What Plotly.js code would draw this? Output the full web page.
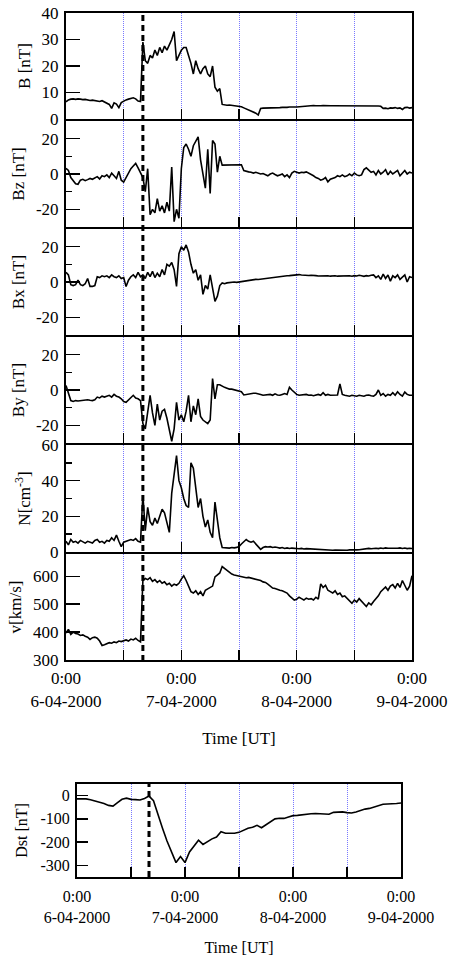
<!DOCTYPE html>
<html>
<head>
<meta charset="utf-8">
<script src="https://cdn.plot.ly/plotly-3.0.1.min.js"></script>
<style>html,body{margin:0;padding:0;background:#fff;}#chart{width:451px;height:957px;}</style>
</head>
<body>
<div id="chart"></div>
<script>
// ---- data (solar wind, 6-9 April 2000), 30-min samples from 6-04-2000 0:00 ----
const startTime = '2000-04-06 00:00';
const shockTime = '2000-04-06 16:00';
const dayTicks = ['2000-04-06 00:00','2000-04-07 00:00','2000-04-08 00:00','2000-04-09 00:00'];
const dayText = ['0:00<br>6-04-2000','0:00<br>7-04-2000','0:00<br>8-04-2000','0:00<br>9-04-2000'];
const halfDayTicks = ['2000-04-06 12:00','2000-04-07 12:00','2000-04-08 12:00'];

const B = [
 6.5,7.2,7.5,7.6,7.4,7.6,7.5,7.3,7.4,7.2,7.0,7.1,6.9,6.8,6.6,6.9,
 6.5,6.2,5.5,4.0,6.1,5.6,4.3,6.2,6.8,7.2,7.5,7.8,8.0,7.6,6.8,6.6,
 29,22,21,24,23,26,24,27,25,27.5,26,28,30,33,22,24,
 26,27,27,24,21,17,22,19,17,19,20,17,16,20,12,10.5,
 11.5,5.5,5.3,5.2,5.3,5.2,5.1,5.0,4.9,4.6,4.2,3.8,3.5,3.1,2.7,2.2,
 1.5,4.0,4.1,4.1,4.2,4.1,4.2,4.3,4.2,4.3,4.4,4.3,4.4,4.5,4.4,4.5,
 4.5,4.6,4.5,4.7,4.8,4.9,5.0,5.1,5.0,4.9,5.0,5.1,5.0,4.9,5.0,5.0,
 5.0,5.1,5.0,4.9,5.0,5.0,5.1,5.0,4.9,5.0,5.0,4.9,5.0,5.1,5.0,4.9,
 5.0,4.9,4.9,4.8,4.0,4.1,3.9,4.2,4.1,4.3,4.0,4.2,3.6,4.3,4.4,4.1,
 4.3];
const Bz = [
 3.2,2,-2,-4,-5.5,-5.8,-3.5,-3,-3.8,-3.2,-2.5,-3,-2,-1.5,-2.8,-1,
 -1.5,-0.5,-2,0.5,-1,-2.5,1.5,-3.5,-4.6,-2,1,3,4.5,6,3.5,1,
 -2,-10,3,-23,-20,-22,-14,-21,-18,-22,-16,-21,4,-27,-20,-25,
 3,15,17,14,10,16,19,21,8,1,-8,14,-11,19,17,1,
 10,5,5,5.2,5,5,5.1,5,5,5.2,2,1.5,1.2,1,0.5,1,
 0.5,0,0.3,-0.5,-1,0,0.5,-0.3,-1,-0.5,0,-1.5,-0.5,-2,0.5,1.5,
 1,0.5,1,0.8,1.2,0.5,0,-1,-2,-2.5,-3.5,-3,-2,-4.5,-3,-2.5,
 -2,-1,-1.5,-0.5,-1.5,-1,0,-1,0.5,-0.5,-1,-0.5,2.5,3.5,2,1,
 1.5,-0.5,2,0,1,2.5,-0.5,1.5,0,1,2,-1,0.5,2,0,1,
 0.5];
const Bx = [
 5.5,4,-1.5,-2,-1.5,1,-1.5,-2,-1,2,-2.5,-2.5,-2,3,2.5,3.5,
 3,3.5,2.5,4,3,2.5,3.5,2,2.5,-2.6,1,3,4,2.5,5.5,3,
 4,2,5.5,3,6,2.5,5,3,7,4,10,9,11,7,-2.5,16,
 20,18,21,17,10,5,7,1,4,-7,-2,-4,4,-3,-11,-8,
 -2,-0.5,-1,-0.5,-0.3,-0.5,0,-0.2,0,0.3,0.8,1,1.2,1,1.3,1.5,
 1.4,1.6,1.8,2,2.2,2.5,2.6,2.8,3,3,3.2,3.3,3.5,3.6,3.8,4,
 4,4.2,4,3.8,4,3.7,3.8,3.5,3.6,3.4,3.5,3.2,3.4,3.5,3.3,3.6,
 3.5,3.3,3.4,3.2,3.5,3.8,3.5,3.3,3.6,3.4,3.8,3.5,3.2,3.6,3.4,3.8,
 4,2.5,3.5,1.5,4.5,2,4,0.5,3.5,2.5,4,1.5,3,4,0,3,
 2.5];
const By = [
 2.5,-2,-6,-6.5,-6,-6.2,-6,-5.8,-6,-5.5,-5.8,-6,-5.5,-4,-4.5,-3.5,
 -4,-3.5,-3,-4,-2.5,-3.5,-4,-5,-6.5,-7,-5.5,-4.5,-3,-4.5,-5,-6,
 -19,-22,-12,-3,-13,-20,-8,-17,-12,-11,-16,-23,-29,-22,-7,-17,
 -14,-18,-12,-3,-18,-9,-14,-5,-15,-17,-18,-19,-17,6.5,-5,3,
 3,2,1.5,1,0.5,0.5,0.2,0,-0.5,-1,-2.8,-2.5,-2.2,-2,-1.8,-1.8,
 -2,-2.5,-3,-2.8,-3,-2.5,-3,-2.2,-2.8,-3,-2.5,-2,-2.5,1.5,0,-1.5,
 -2.5,-3,-2.8,-3,-2.5,-3,-2.8,-3.2,-3,-2.5,-3,-1.5,-3,-2.5,-3,-2.8,
 -3,-2.8,3.5,-2.5,-3,-3.2,-3.5,-3,-3.3,-3.5,-3,-3.2,-3.5,-3,-2.8,-3.3,
 -3.5,-2.5,0,-3,-2,-3.5,-2.5,-3,-1.5,-3,-1,-2.5,-3.5,-1.2,-2.5,-3,
 -3];
const N = [
 6,4,7,5.5,6,5,6.5,5.5,5,6,5.5,5,6.5,7,5.5,6,
 5,6.5,6,8,6.5,9.5,6,3,5.5,6,6.5,7,6.5,7.5,6,5.5,
 32,12,25,17,15,19,16,20,24,22,17,11,33,44,54,40,
 36,30,26,25,50,47,37,25,30,20,14,18,11,8,28,17,
 8,2.5,2.3,2.4,2.2,2.5,2.3,2.6,3,4.5,6,7,6,5.5,6,4.5,
 3.5,1.5,2.5,3,2.8,3,2.5,2.8,2.5,2.2,2.5,2,2.3,2,2.2,2,
 2,1.8,2,1.7,1.9,1.8,1.6,1.5,1.4,1.5,1.3,1.2,1.3,1.1,1.2,1,
 1.1,1,1.2,1,1.1,1,1.2,1.1,1,1.2,1.3,1.5,1.6,1.8,2,1.8,
 2,2.1,1.9,2.2,2,2.3,2.1,2,2.2,1.9,2.1,2.3,2,2.2,1.9,2.1,
 2];
const V = [
 397,410,392,400,395,393,388,390,385,382,374,380,382,378,368,352,
 355,358,362,360,365,362,368,366,370,372,368,375,372,378,370,365,
 585,592,588,595,582,588,578,585,575,580,570,575,565,572,568,575,
 590,602,585,565,545,540,548,535,545,530,550,555,560,565,598,605,
 612,635,628,620,612,608,605,603,600,598,597,595,596,594,592,590,
 588,585,580,578,572,565,558,556,552,550,548,545,540,530,522,515,
 518,525,520,515,522,518,520,515,525,518,573,560,568,550,545,540,
 548,535,540,527,530,520,510,503,515,508,520,510,500,492,505,498,
 510,520,530,545,555,562,550,565,570,558,575,560,585,570,550,565,
 602];
// hourly Dst index
const Dst = [
 -14,-13,-14,-18,-23,-28,-34,-42,-45,-30,-16,-11,-16,-17,-19,-12,
 -2,-22,-85,-140,-195,-240,-288,-262,-288,-242,-218,-192,-210,-198,-186,-178,
 -155,-162,-163,-162,-158,-150,-140,-136,-128,-138,-125,-110,-100,-97,-98,-92,
 -86,-85,-82,-79,-78,-77,-78,-82,-80,-72,-70,-70,-73,-75,-70,-63,
 -58,-55,-49,-42,-37,-36,-36,-34,-32];

const panelTitles = ['B [nT]','Bz [nT]','Bx [nT]','By [nT]','N[cm<sup>-3</sup>]','v[km/s]'];
const panelSeries = [B, Bz, Bx, By, N, V];
const panelRanges = [[0,40],[-30,30],[-30,30],[-30,30],[0,60],[300,680]];
const panelTicks = [[0,10,20,30,40],[-20,0,20],[-20,0,20],[-20,0,20],[0,20,40,60],[300,400,500,600]];
const panelMinor = [[],[-10,10],[-10,10],[-10,10],[10,30,50],[]];
const dstTicks = [0,-100,-200,-300];

// ---- layout ----
const FONT = 'Liberation Serif, Times New Roman, serif';
const H = 957, W = 451;
const LW = 2;                                   // frame line width
const panelEdges = [12,120,228,336,444,553,661]; // frame line centres, px from top
const xDom = [66/W, 412/W];
const step30 = 30*60*1000, step60 = 60*60*1000;
const GRID = 'rgb(120,120,255)';

const traces = [];
const layout = {
  width: W, height: H,
  margin: {l:0, r:0, t:0, b:0},
  paper_bgcolor: '#fff', plot_bgcolor: '#fff',
  showlegend: false,
  font: {family: FONT, size: 17, color: '#000'},
  shapes: []
};

function xAxis(showLabels, dom, size){
  return {
    type: 'date', domain: dom,
    range: ['2000-04-06 00:00','2000-04-09 00:00'],
    tickmode: 'array', tickvals: dayTicks, ticktext: dayText,
    showticklabels: showLabels, ticklabelstandoff: 2,
    ticks: 'inside', ticklen: 10, tickwidth: 1.5, tickcolor: '#000',
    showgrid: true, gridcolor: GRID, griddash: '1px,1px', gridwidth: 1,
    minor: {tickmode: 'array', tickvals: halfDayTicks, ticks: 'inside', ticklen: 10, tickwidth: 1.5, tickcolor: '#000',
            showgrid: true, gridcolor: GRID, griddash: '1px,1px', gridwidth: 1},
    showline: true, linecolor: '#000', linewidth: LW, mirror: true,
    zeroline: false, fixedrange: true,
    tickfont: {family: FONT, size: size, color:'#000'}
  };
}
function yAxis(title, range, ticks, minor, dom, size, standoff){
  const ax = {
    domain: dom, range: range,
    tickmode: 'array', tickvals: ticks, ticktext: ticks.map(String),
    ticks: 'inside', ticklen: 14, tickwidth: 1.5, tickcolor: '#000',
    showgrid: false, zeroline: false,
    showline: true, linecolor: '#000', linewidth: LW, mirror: true,
    fixedrange: true, ticklabelstandoff: 2,
    tickfont: {family: FONT, size: size, color:'#000'},
    title: {text: title, font: {family: FONT, size: size, color:'#000'}, standoff: standoff}
  };
  if (minor.length) ax.minor = {tickmode:'array', tickvals: minor, ticks:'inside', ticklen:6, tickwidth:1.5, tickcolor:'#000', showgrid:false};
  return ax;
}

for (let i = 0; i < 6; i++) {
  const n = i + 1, sx = n === 1 ? '' : String(n);
  const yDom = [1 - (panelEdges[i+1] - LW/2)/H, 1 - (panelEdges[i] + LW/2)/H];
  traces.push({
    type: 'scatter', mode: 'lines', x0: startTime, dx: step30, y: panelSeries[i],
    xaxis: 'x' + sx, yaxis: 'y' + sx,
    line: {color: '#000', width: 1.6}, hoverinfo: 'skip'
  });
  const xa = xAxis(i === 5, xDom, 17);
  xa.anchor = 'y' + sx;
  if (i === 5) xa.title = {text: 'Time [UT]', font: {family: FONT, size: 17, color:'#000'}, standoff: 23};
  const ya = yAxis(panelTitles[i], panelRanges[i], panelTicks[i], panelMinor[i], yDom, 17, 7);
  ya.anchor = 'x' + sx;
  layout['xaxis' + sx] = xa;
  layout['yaxis' + sx] = ya;
}
layout.shapes.push({type:'line', xref:'x', yref:'paper', x0: shockTime, x1: shockTime,
  y0: 1 - 661/H, y1: 1 - 12/H, line: {color:'#000', width: 3, dash: '6px,4px'}, layer: 'above'});

// Dst panel
traces.push({type:'scatter', mode:'lines', x0: startTime, dx: step60, y: Dst,
  xaxis:'x7', yaxis:'y7', line:{color:'#000', width:1.6}, hoverinfo:'skip'});
const xa7 = xAxis(true, [77/W, 401/W], 16);
xa7.anchor = 'y7';
xa7.ticklabelstandoff = 4;
xa7.title = {text:'Time [UT]', font:{family: FONT, size:16, color:'#000'}, standoff: 17};
const ya7 = yAxis('Dst [nT]', [-350,50], dstTicks, [], [1 - (878 - LW/2)/H, 1 - (783 + LW/2)/H], 16, 9);
ya7.ticklen = 11;
ya7.anchor = 'x7';
layout.xaxis7 = xa7;
layout.yaxis7 = ya7;
layout.shapes.push({type:'line', xref:'x7', yref:'y7 domain', x0: shockTime, x1: shockTime,
  y0: 0, y1: 1, line:{color:'#000', width:3, dash:'6px,4px'}, layer:'above'});

Plotly.newPlot('chart', traces, layout, {staticPlot: true, displayModeBar: false});
</script>
</body>
</html>
